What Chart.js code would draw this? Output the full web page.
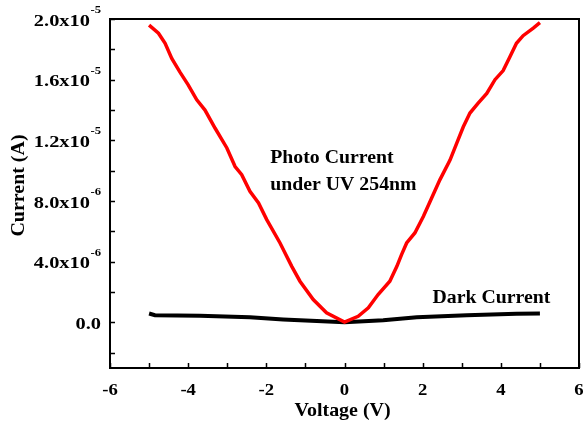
<!DOCTYPE html>
<html>
<head>
<meta charset="utf-8">
<script src="https://cdn.jsdelivr.net/npm/chart.js@4/dist/chart.umd.min.js"></script>
<style>
  html, body { margin: 0; padding: 0; background: #fff; }
  #wrap { width: 585px; height: 424px; }
</style>
</head>
<body>
<div id="wrap"><canvas id="ivChart"></canvas></div>
<script>
// photo current under UV 254nm
const photoVoltage = [-5, -4.76, -4.59, -4.42, -4.21, -4.0, -3.78, -3.57, -3.31, -3.01, -2.8, -2.63, -2.42, -2.2, -1.99, -1.65, -1.35, -1.14, -0.8, -0.46, 0,
    0.35, 0.61, 0.86, 1.16, 1.34, 1.46, 1.59, 1.8, 2.02, 2.23, 2.44, 2.7, 2.87, 3.04, 3.21, 3.42, 3.64, 3.85, 4.06, 4.23, 4.4, 4.57, 4.83, 5.0];
const photoCurrent = [19.6e-6, 19.06e-6, 18.4e-6, 17.4e-6, 16.5e-6, 15.66e-6, 14.67e-6, 14.0e-6, 12.8e-6, 11.5e-6, 10.28e-6, 9.74e-6, 8.64e-6, 7.88e-6, 6.78e-6, 5.24e-6, 3.7e-6, 2.72e-6, 1.51e-6, 0.64e-6, 0.02e-6,
    0.41e-6, 0.97e-6, 1.84e-6, 2.72e-6, 3.7e-6, 4.47e-6, 5.24e-6, 5.9e-6, 7.0e-6, 8.2e-6, 9.4e-6, 10.7e-6, 11.8e-6, 12.9e-6, 13.8e-6, 14.45e-6, 15.1e-6, 16.0e-6, 16.6e-6, 17.5e-6, 18.4e-6, 18.9e-6, 19.4e-6, 19.76e-6];

// dark current
const darkVoltage = [-5, -4.85, -3.7, -2.42, -1.57, -0.71, 0, 0.99, 1.85, 3.13, 4.4, 5];
const darkCurrent = [0.59e-6, 0.48e-6, 0.44e-6, 0.35e-6, 0.2e-6, 0.09e-6, 0.02e-6, 0.15e-6, 0.35e-6, 0.48e-6, 0.57e-6, 0.59e-6];

// axis ticks
const xTickValues = [-6, -4, -2, 0, 2, 4, 6];
const xTickLabels = ['-6', '-4', '-2', '0', '2', '4', '6'];
const xMinorTicks = [-5, -3, -1, 1, 3, 5];
const yTickValues = [0, 4e-6, 8e-6, 1.2e-5, 1.6e-5, 2.0e-5];
const yTickMantissa = ['0.0', '4.0x10', '8.0x10', '1.2x10', '1.6x10', '2.0x10'];
const yTickExponent = ['', '-6', '-6', '-5', '-5', '-5'];
const yMinorTicks = [-2e-6, 2e-6, 6e-6, 1.0e-5, 1.4e-5, 1.8e-5];

const toPoints = (xs, ys) => xs.map((x, i) => ({ x: x, y: ys[i] }));

const SERIF = '"Liberation Serif", "Times New Roman", serif';

function drawStretched(ctx, text, x, y, align, sx) {
    ctx.save();
    ctx.translate(x, y);
    ctx.scale(sx, 1);
    ctx.textAlign = align;
    ctx.fillText(text, 0, 0);
    ctx.restore();
}

// frame, inward ticks, labels and notes (Origin style)
const originAxes = {
    id: 'originAxes',
    afterDraw(chart) {
        const ctx = chart.ctx;
        const area = chart.chartArea;
        const xs = chart.scales.x;
        const ys = chart.scales.y;
        ctx.save();
        ctx.strokeStyle = '#000';
        ctx.fillStyle = '#000';

        // ticks
        ctx.lineWidth = 1.5;
        ctx.beginPath();
        xTickValues.concat(xMinorTicks).forEach(v => {
            const px = Math.round(xs.getPixelForValue(v)) + 0.5;
            ctx.moveTo(px, area.bottom);
            ctx.lineTo(px, area.bottom - 5);
        });
        yTickValues.concat(yMinorTicks).forEach(v => {
            const py = Math.round(ys.getPixelForValue(v)) + 0.5;
            ctx.moveTo(area.left, py);
            ctx.lineTo(area.left + 5, py);
        });
        ctx.stroke();

        // frame
        ctx.lineWidth = 2;
        ctx.strokeRect(area.left, area.top, area.right - area.left, area.bottom - area.top);

        // x tick labels
        ctx.font = 'bold 17px ' + SERIF;
        ctx.textBaseline = 'alphabetic';
        xTickValues.forEach((v, i) => {
            drawStretched(ctx, xTickLabels[i], xs.getPixelForValue(v), area.bottom + 27, 'center', 1.1);
        });

        // y tick labels with superscript exponent
        const right = area.left - 9;
        yTickValues.forEach((v, i) => {
            const py = ys.getPixelForValue(v);
            let r = right;
            if (yTickExponent[i]) {
                ctx.font = 'bold 11px ' + SERIF;
                const ew = ctx.measureText(yTickExponent[i]).width * 1.15;
                drawStretched(ctx, yTickExponent[i], r, py - 6, 'right', 1.15);
                r -= ew + 0.5;
            }
            ctx.font = 'bold 17px ' + SERIF;
            drawStretched(ctx, yTickMantissa[i], r, py + 6.5, 'right', 1.2);
        });

        // axis titles
        ctx.font = 'bold 19px ' + SERIF;
        drawStretched(ctx, 'Voltage (V)', (area.left + area.right) / 2 - 2, area.bottom + 48, 'center', 1.05);
        ctx.save();
        ctx.translate(24, (area.top + area.bottom) / 2 - 8);
        ctx.rotate(-Math.PI / 2);
        drawStretched(ctx, 'Current (A)', 0, 0, 'center', 1.05);
        ctx.restore();

        // curve notes
        ctx.font = 'bold 18px ' + SERIF;
        drawStretched(ctx, 'Photo Current', xs.getPixelForValue(-1.9), ys.getPixelForValue(10.5e-6), 'left', 1.1);
        drawStretched(ctx, 'under UV 254nm', xs.getPixelForValue(-1.9), ys.getPixelForValue(8.7e-6), 'left', 1.1);
        drawStretched(ctx, 'Dark Current', xs.getPixelForValue(2.25), ys.getPixelForValue(1.3e-6), 'left', 1.1);
        ctx.restore();
    }
};

new Chart(document.getElementById('ivChart'), {
    type: 'scatter',
    data: {
        datasets: [{
            label: 'Photo Current',
            data: toPoints(photoVoltage, photoCurrent),
            showLine: true,
            borderColor: '#ff0000',
            borderWidth: 3.5,
            pointRadius: 0,
            tension: 0
        }, {
            label: 'Dark Current',
            data: toPoints(darkVoltage, darkCurrent),
            showLine: true,
            borderColor: '#000000',
            borderWidth: 4,
            pointRadius: 0,
            tension: 0
        }]
    },
    plugins: [originAxes],
    options: {
        responsive: true,
        maintainAspectRatio: false,
        animation: false,
        layout: { padding: { top: 19, right: 6, left: 0, bottom: 0 } },
        plugins: {
            legend: { display: false },
            tooltip: { enabled: false }
        },
        scales: {
            x: {
                type: 'linear',
                min: -6,
                max: 6,
                grid: { display: false },
                border: { display: false },
                ticks: { display: false },
                afterFit: s => { s.height = 56; }
            },
            y: {
                type: 'linear',
                min: -3e-6,
                max: 2e-5,
                grid: { display: false },
                border: { display: false },
                ticks: { display: false },
                afterFit: s => { s.width = 110; }
            }
        }
    }
});
</script>
</body>
</html>
